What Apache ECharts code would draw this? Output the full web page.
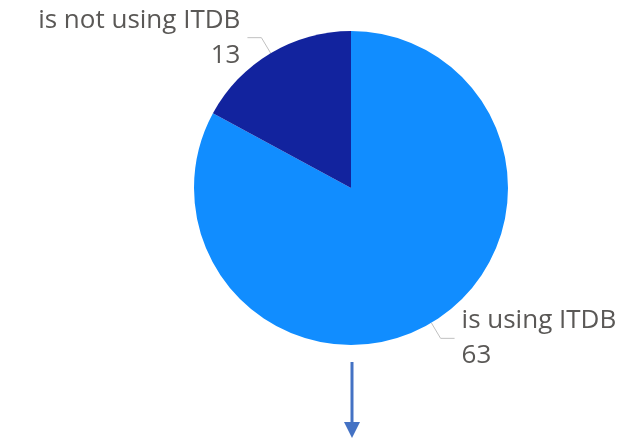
<!DOCTYPE html>
<html>
<head>
<meta charset="utf-8">
<script src="https://cdn.jsdelivr.net/npm/echarts@6/dist/echarts.min.js"></script>
<style>html,body{margin:0;padding:0;background:#fff}#c{width:631px;height:439px}</style>
</head>
<body>
<div id="c"></div>
<script>
const categories = ['is using ITDB', 'is not using ITDB'];
const values = [63, 13];
const colors = ['#118DFF', '#12239E'];

const chart = echarts.init(document.getElementById('c'));
chart.setOption({
  animation: false,
  series: [{
    type: 'pie',
    center: [351, 188],
    radius: [0, 157],
    startAngle: 90,
    clockwise: true,
    data: categories.map((c, i) => ({ name: c, value: values[i], itemStyle: { color: colors[i] } })),
    label: {
      show: true,
      position: 'outside',
      formatter: '{b}\n{c}',
      color: '#5A5856',
      fontFamily: 'Open Sans',
      fontSize: 26,
      lineHeight: 35,
      distanceToLabelLine: 7
    },
    labelLine: {
      show: true,
      length: 18,
      length2: 14,
      lineStyle: { color: '#C0C0C0', width: 1 }
    }
  }],
  graphic: [
    { type: 'line', shape: { x1: 352, y1: 362, x2: 352, y2: 424 }, style: { stroke: '#4472C4', lineWidth: 3 } },
    { type: 'polygon', shape: { points: [[344, 422], [360, 422], [352, 438]] }, style: { fill: '#4472C4' } }
  ]
});
</script>
</body>
</html>
